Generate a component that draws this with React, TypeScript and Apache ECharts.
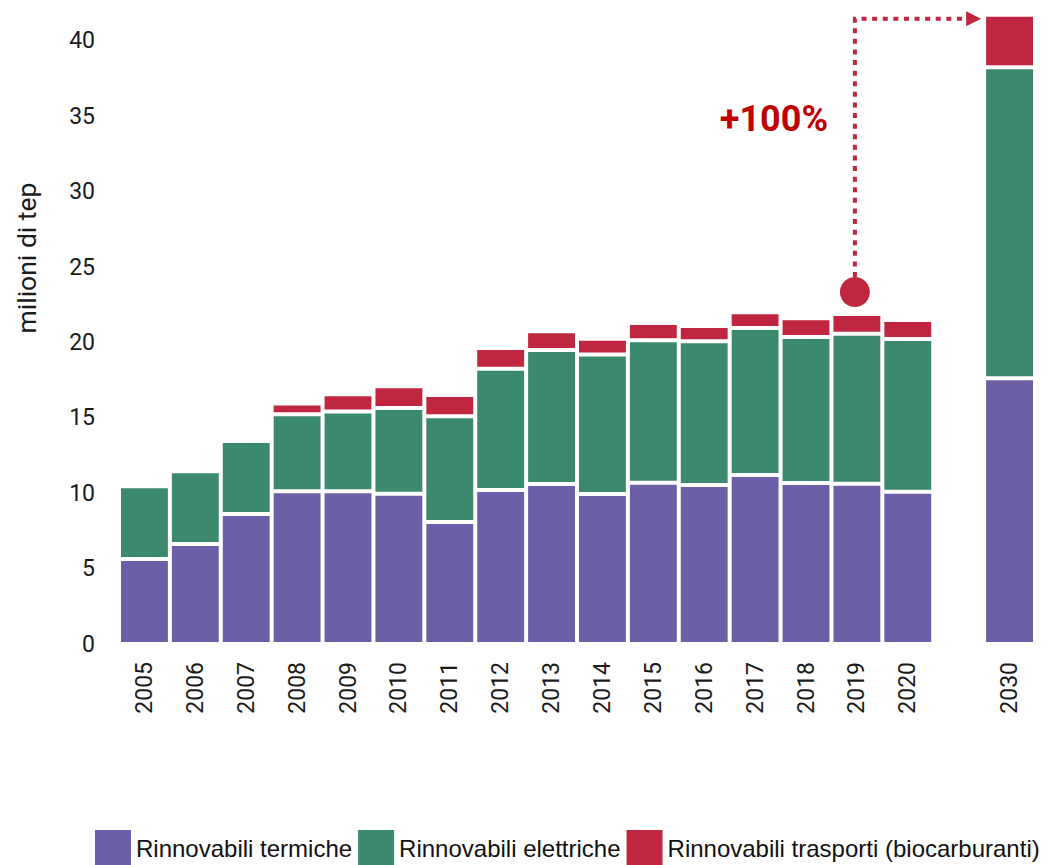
import React, { useEffect, useRef } from "react";
import * as echarts from "echarts";

// Anni (con una colonna vuota prima dell'obiettivo 2030)
const years = ["2005", "2006", "2007", "2008", "2009", "2010", "2011", "2012", "2013", "2014", "2015", "2016", "2017", "2018", "2019", "2020", "", "2030"];

// Milioni di tep per settore
const termiche = [5.64, 6.63, 8.62, 10.13, 10.13, 9.97, 8.09, 10.21, 10.61, 9.95, 10.7, 10.54, 11.21, 10.68, 10.63, 10.1, null, 17.62];
const elettriche = [4.82, 4.82, 4.84, 5.1, 5.28, 5.68, 7.01, 8.05, 8.89, 9.24, 9.44, 9.53, 9.75, 9.68, 9.95, 10.13, null, 20.62];
const trasporti = [0.2, 0.22, 0.17, 0.71, 1.15, 1.44, 1.41, 1.37, 1.24, 1.06, 1.15, 1.02, 1.04, 1.24, 1.3, 1.26, null, 3.49];

const yTicks = [0, 5, 10, 15, 20, 25, 30, 35, 40];

const seriesNames = ["Rinnovabili termiche", "Rinnovabili elettriche", "Rinnovabili trasporti (biocarburanti)"];
const seriesColors = ["#6c5fa7", "#3c8a6e", "#c0263f"];

const annotationLabel = "+100%";
const fromYear = "2019";
const toYear = "2030";

const total = (i: number) => (termiche[i] ?? 0) + (elettriche[i] ?? 0) + (trasporti[i] ?? 0);

export default function App() {
  const ref = useRef<HTMLDivElement>(null);

  useEffect(() => {
    if (!ref.current) return;
    const chart = echarts.init(ref.current, undefined, { renderer: "svg" });
    const red = seriesColors[2];

    const barSeries = [termiche, elettriche, trasporti].map((data, i) => ({
      name: seriesNames[i],
      type: "bar" as const,
      stack: "tot",
      data,
      barCategoryGap: "0%",
      itemStyle: { color: seriesColors[i], borderColor: "#ffffff", borderWidth: 2 },
    }));

    chart.setOption({
      animation: false,
      grid: { left: 119, right: 13, top: 3.1, bottom: 221, containLabel: false },
      legend: {
        left: 95,
        top: 830,
        padding: 0,
        itemWidth: 36,
        itemHeight: 36,
        itemGap: 6,
        icon: "rect",
        itemStyle: { borderWidth: 0 },
        textStyle: { fontFamily: "Liberation Sans", fontSize: 24, color: "#111" },
        data: seriesNames,
      },
      xAxis: {
        type: "category",
        data: years,
        axisLine: { show: false },
        axisTick: { show: false },
        axisLabel: {
          rotate: 90,
          margin: 18,
          interval: 0,
          fontFamily: "Roboto",
          fontSize: 23,
          color: "#1a1a1a",
        },
      },
      yAxis: {
        type: "value",
        min: 0,
        max: 42.5,
        interval: 5,
        splitLine: { show: false },
        axisLine: { show: false },
        axisTick: { show: false },
        axisLabel: {
          margin: 24,
          showMaxLabel: false,
          fontFamily: "Roboto",
          fontSize: 23,
          color: "#1a1a1a",
          formatter: (v: number) => (yTicks.includes(v) ? String(v) : ""),
        },
      },
      series: barSeries,
    });

    // Annotazione: dal totale 2019 all'obiettivo 2030
    const iFrom = years.indexOf(fromYear);
    const iTo = years.indexOf(toYear);
    const [xFrom, yFromTop] = chart.convertToPixel({ gridIndex: 0 }, [fromYear, total(iFrom)]) as number[];
    const [xTo, yToTop] = chart.convertToPixel({ gridIndex: 0 }, [toYear, total(iTo)]) as number[];
    const halfBar = 25.4;
    const r = 15;
    const cy = yFromTop - 22;
    const lineY = yToTop + 4;
    const arrowTip = xTo - halfBar - 3;
    const arrowBase = arrowTip - 15;
    const [, yText] = chart.convertToPixel({ gridIndex: 0 }, [fromYear, 34.8]) as number[];

    chart.setOption({
      graphic: [
        {
          type: "polyline",
          shape: { points: [[xFrom - 2, cy - r], [xFrom - 2, lineY], [arrowBase, lineY]] },
          style: { stroke: red, lineWidth: 4, lineDash: [5, 5.6], fill: null },
          z: 10,
        },
        {
          type: "polygon",
          shape: { points: [[arrowBase, lineY - 7.5], [arrowTip, lineY], [arrowBase, lineY + 7.5]] },
          style: { fill: red },
          z: 10,
        },
        {
          type: "circle",
          shape: { cx: xFrom - 2, cy, r },
          style: { fill: red },
          z: 10,
        },
        {
          type: "text",
          x: xFrom - 83,
          y: yText,
          style: {
            text: annotationLabel,
            fontFamily: "Roboto",
            fontWeight: "bold",
            fontSize: 36,
            fill: "#c00000",
            align: "center",
            verticalAlign: "middle",
          },
          z: 10,
        },
        {
          type: "text",
          x: 26,
          y: 258,
          rotation: Math.PI / 2,
          style: {
            text: "milioni di tep",
            fontFamily: "Roboto",
            fontSize: 26.5,
            fill: "#1a1a1a",
            align: "center",
            verticalAlign: "middle",
          },
        },
      ],
    });

    return () => chart.dispose();
  }, []);

  return (
    <div
      ref={ref}
      style={{ position: "absolute", left: 0, top: 0, width: 1048, height: 865, background: "#fff" }}
    />
  );
}
